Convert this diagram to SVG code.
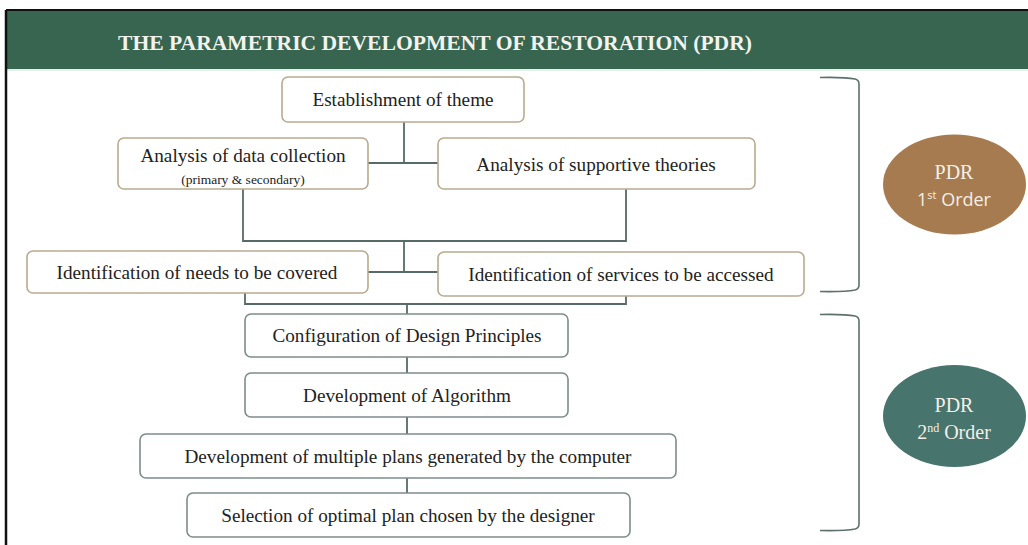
<svg xmlns="http://www.w3.org/2000/svg" width="1028" height="545" viewBox="0 0 1028 545">
<style>
.box{fill:#fff;stroke-width:1.6}
.tan{stroke:#B9AA90}
.gray{stroke:#7F8C8A}
.t{font-family:"Liberation Serif","Times New Roman",serif;font-size:19.2px;fill:#222;text-anchor:middle}
.s{font-size:13.5px}
.c{fill:none;stroke:#566B66;stroke-width:1.8}
.br{fill:none;stroke:#5E706C;stroke-width:1.6}
.e{font-family:"Liberation Serif","Times New Roman",serif;font-size:20px;fill:#F4EFE6;text-anchor:middle}
.sans{font-family:"Open Sans","Liberation Sans",sans-serif;font-size:18px}
</style>
<rect x="0" y="0" width="1028" height="545" fill="#fff"/>
<rect x="6" y="10" width="1022" height="59" fill="#37654F"/>
<line x1="6" y1="10" x2="1028" y2="10" stroke="#111" stroke-width="2"/>
<line x1="6" y1="70" x2="1028" y2="70" stroke="#DCEDE6" stroke-width="1.5"/>
<line x1="6" y1="10" x2="6" y2="545" stroke="#111" stroke-width="2.5"/>
<text x="118" y="50" font-family="'Liberation Serif','Times New Roman',serif" font-weight="bold" font-size="21" fill="#F2F2EE" textLength="634" lengthAdjust="spacingAndGlyphs">THE PARAMETRIC DEVELOPMENT OF RESTORATION (PDR)</text>

<g id="connectors">
<path class="c" d="M404 122V163M368 163H438M243 189V241H626V189M404 241V272M368 272H438M245 293V304H626V296M407 304V314M407 357V373M407 417V434M407 478V493"/>
</g>

<g id="n1"><rect class="box tan" x="282" y="77" width="242" height="45" rx="6"/><text class="t" x="403" y="106">Establishment of theme</text></g>
<g id="n2"><rect class="box tan" x="118" y="138" width="250" height="51" rx="6"/><text class="t" x="243" y="162">Analysis of data collection</text><text class="t s" x="243" y="184">(primary &amp; secondary)</text></g>
<g id="n3"><rect class="box tan" x="438" y="138" width="317" height="51" rx="6"/><text class="t" x="596" y="171">Analysis of supportive theories</text></g>
<g id="n4"><rect class="box tan" x="27" y="251" width="341" height="42" rx="6"/><text class="t" x="197" y="279">Identification of needs to be covered</text></g>
<g id="n5"><rect class="box tan" x="438" y="252" width="366" height="44" rx="6"/><text class="t" x="621" y="281">Identification of services to be accessed</text></g>
<g id="n6"><rect class="box gray" x="245" y="314" width="323" height="43" rx="6"/><text class="t" x="407" y="342">Configuration of Design Principles</text></g>
<g id="n7"><rect class="box gray" x="245" y="373" width="323" height="44" rx="6"/><text class="t" x="407" y="402">Development of Algorithm</text></g>
<g id="n8"><rect class="box gray" x="140" y="434" width="536" height="44" rx="6"/><text class="t" x="408" y="463">Development of multiple plans generated by the computer</text></g>
<g id="n9"><rect class="box gray" x="187" y="493" width="443" height="44" rx="6"/><text class="t" x="408" y="522">Selection of optimal plan chosen by the designer</text></g>

<g id="bracket1"><path class="br" d="M820 77.5Q845 77 855 79Q859 80 859 84V285Q859 289 855 290Q845 292 820 291.5"/></g>
<g id="bracket2"><path class="br" d="M820 314.5Q845 314 855 316Q859 317 859 321V524Q859 528 855 529Q845 531 820 530.5"/></g>

<g id="order1"><ellipse cx="954.5" cy="184.5" rx="71.5" ry="50" fill="#A67B50"/><text class="e" x="954" y="179">PDR</text><text class="e sans" x="954" y="206">1<tspan font-size="11" dy="-7">st</tspan><tspan dy="7"> Order</tspan></text></g>
<g id="order2"><ellipse cx="954.5" cy="416" rx="71.5" ry="51" fill="#47746D"/><text class="e" x="954" y="412">PDR</text><text class="e" x="954" y="439">2<tspan font-size="12" dy="-7">nd</tspan><tspan dy="7"> Order</tspan></text></g>
</svg>
